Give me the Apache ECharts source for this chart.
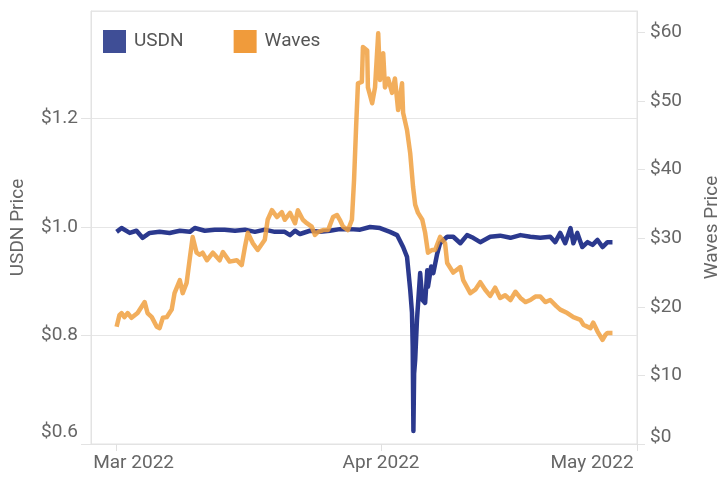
<!DOCTYPE html>
<html><head><meta charset="utf-8">
<script src="https://cdn.jsdelivr.net/npm/echarts@6/dist/echarts.min.js"></script>
<style>html,body{margin:0;padding:0;background:#fff}#c{width:718px;height:477px}</style>
</head><body><div id="c"></div>
<script>
const usdnTime = ['2022-03-01 00:00','2022-03-01 14:00','2022-03-02 13:00','2022-03-03 08:00','2022-03-04 01:00','2022-03-04 21:00','2022-03-06 01:00','2022-03-07 05:00','2022-03-08 10:00','2022-03-09 14:00','2022-03-10 04:00','2022-03-11 08:00','2022-03-12 12:00','2022-03-13 16:00','2022-03-14 21:00','2022-03-16 01:00','2022-03-17 05:00','2022-03-18 09:00','2022-03-19 13:00','2022-03-20 17:00','2022-03-21 08:00','2022-03-21 22:00','2022-03-22 12:00','2022-03-23 16:00','2022-03-24 20:00','2022-03-26 00:00','2022-03-27 04:00','2022-03-28 09:00','2022-03-29 13:00','2022-03-30 17:00','2022-03-31 21:00','2022-04-02 01:00','2022-04-02 21:00','2022-04-03 14:00','2022-04-04 01:00','2022-04-04 10:00','2022-04-04 15:00','2022-04-04 17:00','2022-04-04 19:00','2022-04-04 21:00','2022-04-05 00:00','2022-04-05 05:00','2022-04-05 14:00','2022-04-05 20:00','2022-04-06 04:00','2022-04-06 10:00','2022-04-06 12:00','2022-04-06 21:00','2022-04-07 03:00','2022-04-07 14:00','2022-04-07 22:00','2022-04-08 18:00','2022-04-09 11:00','2022-04-10 07:00','2022-04-11 02:00','2022-04-11 19:00','2022-04-12 15:00','2022-04-13 19:00','2022-04-14 23:00','2022-04-16 04:00','2022-04-17 08:00','2022-04-18 12:00','2022-04-19 16:00','2022-04-20 20:00','2022-04-21 10:00','2022-04-22 00:00','2022-04-22 14:00','2022-04-23 05:00','2022-04-23 13:00','2022-04-24 00:00','2022-04-24 14:00','2022-04-25 05:00','2022-04-25 19:00','2022-04-26 09:00','2022-04-26 23:00','2022-04-27 13:00','2022-04-28 03:00'];
const usdnPrice = [0.991,0.998,0.989,0.993,0.980,0.989,0.991,0.989,0.993,0.991,0.998,0.993,0.995,0.995,0.993,0.995,0.991,0.995,0.991,0.991,0.985,0.993,0.987,0.993,0.991,0.993,0.996,0.996,0.995,1.000,0.998,0.991,0.985,0.963,0.945,0.884,0.842,0.780,0.624,0.730,0.755,0.829,0.915,0.866,0.860,0.920,0.890,0.927,0.915,0.951,0.970,0.982,0.982,0.970,0.985,0.980,0.972,0.982,0.984,0.980,0.985,0.982,0.980,0.982,0.972,0.989,0.970,0.998,0.970,0.989,0.963,0.972,0.967,0.976,0.963,0.972,0.972];

const wavesTime = ['2022-03-01 00:00','2022-03-01 08:00','2022-03-01 14:00','2022-03-01 22:00','2022-03-02 07:00','2022-03-02 18:00','2022-03-03 11:00','2022-03-04 07:00','2022-03-04 15:00','2022-03-05 03:00','2022-03-05 17:00','2022-03-06 01:00','2022-03-06 10:00','2022-03-06 21:00','2022-03-07 11:00','2022-03-07 19:00','2022-03-08 10:00','2022-03-08 18:00','2022-03-09 05:00','2022-03-09 14:00','2022-03-09 22:00','2022-03-10 09:00','2022-03-10 18:00','2022-03-11 02:00','2022-03-11 14:00','2022-03-12 07:00','2022-03-13 02:00','2022-03-13 11:00','2022-03-14 06:00','2022-03-15 02:00','2022-03-15 16:00','2022-03-16 01:00','2022-03-16 09:00','2022-03-16 23:00','2022-03-17 13:00','2022-03-18 09:00','2022-03-18 17:00','2022-03-19 05:00','2022-03-19 19:00','2022-03-20 09:00','2022-03-20 17:00','2022-03-21 08:00','2022-03-21 22:00','2022-03-22 06:00','2022-03-22 20:00','2022-03-23 07:00','2022-03-23 21:00','2022-03-24 06:00','2022-03-24 14:00','2022-03-25 05:00','2022-03-25 19:00','2022-03-26 09:00','2022-03-26 20:00','2022-03-27 04:00','2022-03-27 13:00','2022-03-28 03:00','2022-03-28 14:00','2022-03-28 20:00','2022-03-29 02:00','2022-03-29 07:00','2022-03-29 18:00','2022-03-29 21:00','2022-03-30 09:00','2022-03-30 11:00','2022-03-30 23:00','2022-03-31 07:00','2022-03-31 16:00','2022-03-31 21:00','2022-04-01 06:00','2022-04-01 11:00','2022-04-01 20:00','2022-04-02 07:00','2022-04-02 15:00','2022-04-03 00:00','2022-04-03 11:00','2022-04-03 14:00','2022-04-04 01:00','2022-04-04 10:00','2022-04-04 18:00','2022-04-05 00:00','2022-04-05 08:00','2022-04-05 20:00','2022-04-06 04:00','2022-04-06 12:00','2022-04-07 00:00','2022-04-07 08:00','2022-04-07 22:00','2022-04-08 12:00','2022-04-08 18:00','2022-04-09 11:00','2022-04-10 07:00','2022-04-10 15:00','2022-04-11 11:00','2022-04-12 01:00','2022-04-12 15:00','2022-04-13 05:00','2022-04-13 19:00','2022-04-14 09:00','2022-04-14 23:00','2022-04-15 13:00','2022-04-16 04:00','2022-04-16 18:00','2022-04-17 08:00','2022-04-17 22:00','2022-04-18 12:00','2022-04-19 02:00','2022-04-19 16:00','2022-04-20 06:00','2022-04-20 20:00','2022-04-21 13:00','2022-04-22 00:00','2022-04-22 20:00','2022-04-23 13:00','2022-04-24 09:00','2022-04-24 17:00','2022-04-25 13:00','2022-04-25 21:00','2022-04-26 09:00','2022-04-26 23:00','2022-04-27 07:00','2022-04-27 13:00','2022-04-28 03:00'];
const wavesPrice = [17.1,18.8,19.1,18.5,19.1,18.4,19.1,20.7,19.1,18.5,17.1,16.9,18.4,18.5,19.6,22.0,23.9,22.0,23.5,27.1,30.2,27.9,27.6,27.9,26.8,27.9,26.8,28.0,26.6,26.8,26.1,28.7,30.8,29.3,28.3,29.8,32.7,34.1,33.1,33.8,32.7,33.7,32.2,34.1,32.7,32.2,31.7,30.5,30.9,31.2,31.2,33.1,33.4,32.7,31.7,31.2,32.7,38.5,46.5,52.6,52.8,57.9,57.4,52.0,49.7,52.0,59.9,53.1,57.0,52.0,53.3,51.2,53.3,48.7,52.6,48.3,45.8,42.4,37.5,34.9,33.7,32.7,30.8,27.9,28.3,28.3,30.2,29.3,26.4,25.0,25.8,23.9,22.0,22.5,23.6,22.5,21.6,22.8,21.3,21.7,21.0,22.2,21.3,20.7,21.0,21.5,21.5,20.7,21.0,20.1,19.6,19.1,18.5,18.1,17.4,16.9,17.7,16.4,15.2,15.9,16.2,16.2];

const xTickDates = ['2022-03-01 00:00','2022-04-01 00:00','2022-05-01 00:00'];
const xTickLabels = ['Mar 2022','Apr 2022','May 2022'];
const xRange = ['2022-02-26 00:00','2022-05-01 00:00'];
const usdnTicks = [0.6, 0.8, 1.0, 1.2];
const wavesTicks = [0, 10, 20, 30, 40, 50, 60];

const P = s => +new Date(s.replace(' ', 'T') + ':00');
const tickTs = xTickDates.map(P);
const FONT = 'Roboto';
const TXT = '#666';
const chart = echarts.init(document.getElementById('c'), null, {renderer: 'canvas'});
const rich = (extra) => Object.assign({fontFamily: FONT, fontSize: 19, color: TXT}, extra);

chart.setOption({
  animation: false,
  backgroundColor: '#fff',
  textStyle: {fontFamily: FONT},
  grid: {left: 91, right: 81, top: 11, bottom: 33, show: true, borderColor: '#e3e3e3', borderWidth: 1, containLabel: false, outerBoundsMode: 'none'},
  legend: {
    left: 98, top: 25, itemWidth: 23, itemHeight: 23, itemGap: 50, icon: 'rect',
    textStyle: {fontFamily: FONT, fontSize: 19, color: '#555', padding: [0, 0, 0, 3]},
    data: [{name: 'USDN', itemStyle: {color: '#3f4e96'}}, {name: 'Waves', itemStyle: {color: '#f09b3b'}}]
  },
  xAxis: {
    type: 'value', min: P(xRange[0]), max: P(xRange[1]),
    axisLine: {show: true, lineStyle: {color: '#e3e3e3'}},
    axisTick: {show: true, length: 7, lineStyle: {color: '#e0e0e0'}, customValues: tickTs},
    splitLine: {show: false},
    axisLabel: {
      customValues: tickTs, margin: 10, fontFamily: FONT, fontSize: 19, color: TXT,
      formatter: function (v) {
        const i = tickTs.findIndex(t => Math.abs(t - v) < 3600e3);
        if (i < 0) return '';
        if (i === 0) return '{first|' + xTickLabels[i] + '}';
        if (i === tickTs.length - 1) return '{last|' + xTickLabels[i] + '}';
        return '{mid|' + xTickLabels[i] + '}';
      },
      rich: {first: rich({padding: [0, 0, 0, 34]}), mid: rich({}), last: rich({padding: [0, 90, 0, 0]})}
    }
  },
  yAxis: [{
    type: 'value', position: 'left', min: usdnTicks[0], max: 1.398, interval: 0.2,
    name: 'USDN Price', nameLocation: 'middle', nameRotate: 90, nameGap: 63,
    nameTextStyle: {fontFamily: FONT, fontSize: 19, color: TXT},
    axisLine: {show: true, lineStyle: {color: '#e3e3e3'}},
    axisTick: {show: true, length: 10, lineStyle: {color: '#e3e3e3'}},
    splitLine: {show: true, lineStyle: {color: '#e6e6e6', width: 1}},
    axisLabel: {
      margin: 13, showMaxLabel: false, fontFamily: FONT, fontSize: 19, color: TXT,
      formatter: function (v) {
        if (usdnTicks.indexOf(Math.round(v * 10) / 10) < 0) return '';
        const s = '$' + v.toFixed(1);
        return Math.abs(v - usdnTicks[0]) < 1e-6 ? '{lo|' + s + '}' : '{n|' + s + '}';
      },
      rich: {lo: rich({padding: [0, 0, 24, 0]}), n: rich({})}
    }
  }, {
    type: 'value', position: 'right', min: wavesTicks[0], max: 63.15, interval: 10,
    name: 'Waves Price', nameLocation: 'middle', nameRotate: 90, nameGap: 66,
    nameTextStyle: {fontFamily: FONT, fontSize: 19, color: TXT},
    axisLine: {show: true, lineStyle: {color: '#e3e3e3'}},
    axisTick: {show: true, length: 8, lineStyle: {color: '#e3e3e3'}},
    splitLine: {show: false},
    axisLabel: {
      margin: 13, showMaxLabel: false, fontFamily: FONT, fontSize: 19, color: TXT,
      formatter: function (v) {
        if (wavesTicks.indexOf(Math.round(v)) < 0) return '';
        const s = '$' + Math.round(v);
        return v === wavesTicks[0] ? '{lo|' + s + '}' : '{n|' + s + '}';
      },
      rich: {lo: rich({padding: [0, 0, 14, 0]}), n: rich({})}
    }
  }],
  series: [{
    name: 'USDN', type: 'line', yAxisIndex: 0, showSymbol: false, smooth: false,
    data: usdnTime.map((t, i) => [P(t), usdnPrice[i]]),
    itemStyle: {color: '#3f4e96'},
    lineStyle: {color: '#24338a', width: 4.5, opacity: 0.97, join: 'round'},
    z: 2
  }, {
    name: 'Waves', type: 'line', yAxisIndex: 1, showSymbol: false, smooth: false,
    data: wavesTime.map((t, i) => [P(t), wavesPrice[i]]),
    itemStyle: {color: '#f09b3b'},
    lineStyle: {color: '#f0a040', width: 4.5, opacity: 0.85, join: 'round'},
    z: 3
  }]
});
</script></body></html>
